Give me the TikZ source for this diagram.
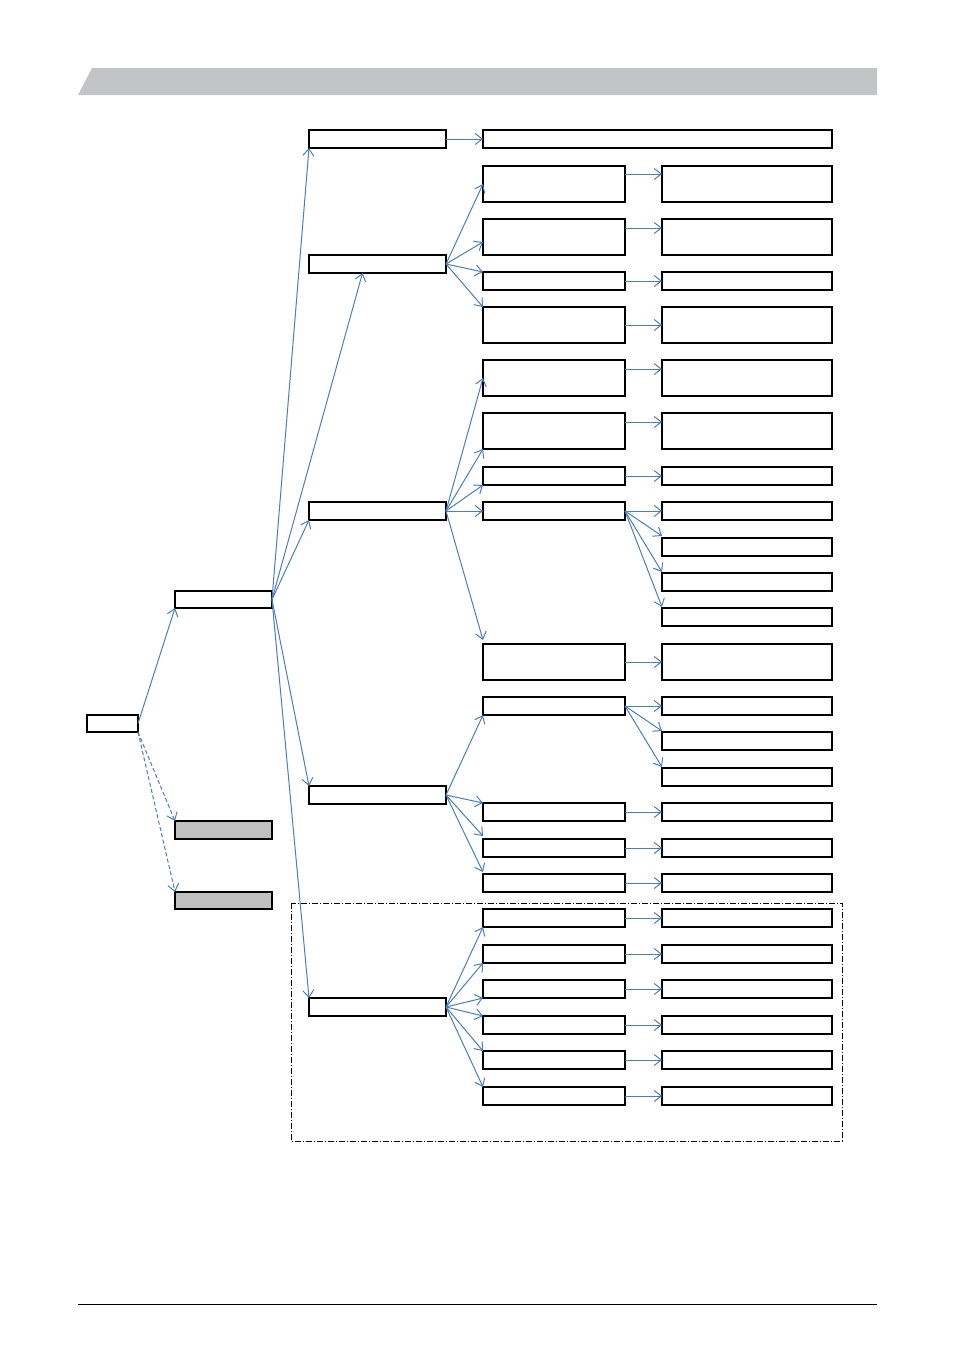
\documentclass[tikz,border=0pt]{standalone}
\usepackage{xcolor}
\usepackage{tikz}
\usetikzlibrary{arrows.meta}
\definecolor{linkblue}{HTML}{4A7EC1}
\definecolor{bandgray}{HTML}{C3C4C6}
\definecolor{boxgray}{HTML}{C0C0C0}
\tikzset{
 box/.style={draw,line width=1.3pt,inner sep=0pt,outer sep=0pt,anchor=north west},
 lvtwo/.style={box,minimum width=137,minimum height=18},
 cbox/.style={box,minimum width=142,minimum height=18},
 cbig/.style={box,minimum width=142,minimum height=36},
 dbox/.style={box,minimum width=170,minimum height=18},
 dbig/.style={box,minimum width=170,minimum height=36},
 arr/.style={linkblue,line width=1pt,-{Straight Barb[length=7pt,width=11pt]}},
 darr/.style={arr,dash pattern=on 4pt off 2.5pt}
}
\begin{document}
\begin{tikzpicture}[x=1pt,y=-1pt]
\useasboundingbox(0,0)rectangle(954,1350);
\fill[bandgray](78,95)--(92,68)--(877,68)--(877,95)--cycle;
\draw[line width=1pt](78,1304)--(877,1304);
\draw[line width=0.8pt,dash pattern=on 6pt off 2pt on 1pt off 2pt](291,903)rectangle(842,1141);

\node[box,minimum width=51,minimum height=17](root)at(87,715){};
\node[box,minimum width=97,minimum height=17](top)at(175,591){};
\node[box,fill=boxgray,minimum width=97,minimum height=18](grA)at(175,821){};
\node[box,fill=boxgray,minimum width=97,minimum height=17](grB)at(175,892){};
\draw[arr](root.east)--(top.south west);
\draw[darr](root.south east)--(grA.north west);
\draw[darr](root.south east)--(grB.north west);

\node[lvtwo](b1)at(309,130){};
\node[lvtwo](b2)at(309,255){};
\node[lvtwo](b3)at(309,502){};
\node[lvtwo](b4)at(309,786){};
\node[lvtwo](b5)at(309,998){};
\draw[arr](top.east)--(b1.south west);
\draw[arr](top.east)--([xshift=-15pt]b2.south);
\draw[arr](top.east)--(b3.south west);
\draw[arr](top.east)--(b4.north west);
\draw[arr](top.east)--(b5.north west);

\node[box,minimum width=349,minimum height=18](w1)at(483,130){};
\draw[arr](b1.east)--(w1.west);

\node[cbig](c21)at(483,166){};
\node[cbig](c22)at(483,219){};
\node[cbox](c23)at(483,272){};
\node[cbig](c24)at(483,307){};
\node[dbig](d21)at(662,166){};
\node[dbig](d22)at(662,219){};
\node[dbox](d23)at(662,272){};
\node[dbig](d24)at(662,307){};
\draw[arr](b2.east)--(c21.west);
\draw[arr](b2.east)--([yshift=-5pt]c22.west);
\draw[arr](b2.east)--(c23.north west);
\draw[arr](b2.east)--(c24.north west);
\draw[arr]([yshift=-8pt]c21.north east)--([yshift=-8pt]d21.north west);
\draw[arr]([yshift=-9pt]c22.north east)--([yshift=-9pt]d22.north west);
\draw[arr](c23.east)--(d23.west);
\draw[arr](c24.east)--(d24.west);

\node[cbig](c31)at(483,360){};
\node[cbig](c32)at(483,413){};
\node[cbox](c33)at(483,467){};
\node[cbox](c34)at(483,502){};
\node[cbig](c35)at(483,644){};
\node[dbig](d31)at(662,360){};
\node[dbig](d32)at(662,413){};
\node[dbox](d33)at(662,467){};
\node[dbig](d35)at(662,644){};
\node[dbox](d341)at(662,502){};
\node[dbox](d342)at(662,538){};
\node[dbox](d343)at(662,573){};
\node[dbox](d344)at(662,608){};
\draw[arr](b3.east)--(c31.west);
\draw[arr](b3.east)--(c32.south west);
\draw[arr](b3.east)--(c33.south west);
\draw[arr](b3.east)--(c34.west);
\draw[arr](b3.east)--([yshift=4pt]c35.north west);
\draw[arr]([yshift=-9pt]c31.north east)--([yshift=-9pt]d31.north west);
\draw[arr]([yshift=-9pt]c32.north east)--([yshift=-9pt]d32.north west);
\draw[arr](c33.east)--(d33.west);
\draw[arr](c35.east)--(d35.west);
\draw[arr](c34.east)--(d341.west);
\draw[arr](c34.east)--([yshift=2pt]d342.north west);
\draw[arr](c34.east)--([yshift=1pt]d343.north west);
\draw[arr](c34.east)--([yshift=1pt]d344.north west);

\node[cbox](c41)at(483,697){};
\node[cbox](c42)at(483,803){};
\node[cbox](c43)at(483,839){};
\node[cbox](c44)at(483,874){};
\node[dbox](d411)at(662,697){};
\node[dbox](d412)at(662,732){};
\node[dbox](d413)at(662,768){};
\node[dbox](d42)at(662,803){};
\node[dbox](d43)at(662,839){};
\node[dbox](d44)at(662,874){};
\draw[arr](b4.east)--(c41.south west);
\draw[arr](b4.east)--(c42.north west);
\draw[arr](b4.east)--([yshift=3pt]c43.north west);
\draw[arr](b4.east)--([yshift=2pt]c44.north west);
\draw[arr](c41.east)--(d411.west);
\draw[arr](c41.east)--([yshift=1pt]d412.north west);
\draw[arr](c41.east)--([yshift=1pt]d413.north west);
\foreach \i in {2,3,4} \draw[arr](c4\i.east)--(d4\i.west);

\foreach \y [count=\i] in {909,945,980,1016,1051,1087}{
 \node[cbox](c5\i)at(483,\y){};
 \node[dbox](d5\i)at(662,\y){};
 \draw[arr](c5\i.east)--(d5\i.west);
}
\foreach \i/\a in {1/south west,2/south west,3/south west,4/north west,5/north west,6/north west}
 \draw[arr](b5.east)--(c5\i.\a);
\end{tikzpicture}
\end{document}
